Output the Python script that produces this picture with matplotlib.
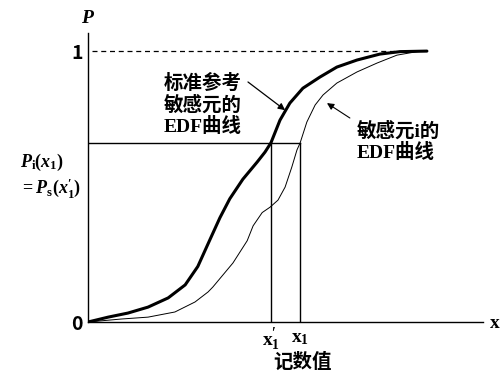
import matplotlib
matplotlib.use("Agg")
import matplotlib.pyplot as plt

plt.rcParams['font.family'] = ['Noto Sans CJK SC', 'DejaVu Sans']
plt.rcParams['mathtext.fontset'] = 'custom'
plt.rcParams['mathtext.rm'] = 'Liberation Serif:bold'
plt.rcParams['mathtext.it'] = 'Liberation Serif:style=italic:weight=bold'
plt.rcParams['mathtext.bf'] = 'Liberation Serif:bold'

# reference (standard) sensor EDF
ref_x = [0.0, 0.51, 1.01, 1.52, 2.03, 2.46, 2.78, 3.09, 3.34, 3.59, 3.92, 4.28,
         4.48, 4.63, 4.86, 5.11, 5.44, 5.87, 6.30, 6.81, 7.39, 7.90, 8.58]
ref_p = [0.0, 0.018, 0.033, 0.055, 0.089, 0.137, 0.205, 0.305, 0.385, 0.455,
         0.527, 0.590, 0.627, 0.661, 0.745, 0.808, 0.863, 0.904, 0.941, 0.967,
         0.989, 0.998, 1.0]

# sensor i EDF
sen_x = [0.0, 0.84, 1.52, 2.20, 2.71, 3.04, 3.16, 3.67, 4.03, 4.18, 4.41, 4.61,
         4.81, 4.99, 5.16, 5.29, 5.37, 5.54, 5.75, 5.95, 6.30, 6.81, 7.32, 7.82,
         8.33, 8.58]
sen_p = [0.0, 0.011, 0.018, 0.037, 0.074, 0.111, 0.129, 0.218, 0.300, 0.355,
         0.404, 0.424, 0.450, 0.498, 0.572, 0.635, 0.661, 0.738, 0.801, 0.838,
         0.882, 0.923, 0.956, 0.985, 0.998, 1.0]

x1p = 4.63   # x'_1
x1 = 5.37    # x_1
p_x1 = 0.661

cjk = ['Liberation Serif', 'Noto Sans CJK SC']

fig = plt.figure(figsize=(5, 3.8), dpi=100)
ax = fig.add_axes([0.176, 0.1526, 0.79, 0.76])
ax.set_xlim(0, 10)
ax.set_ylim(0, 1.066)

ax.plot(ref_x, ref_p, color='black', lw=2.2, solid_capstyle='round',
        solid_joinstyle='round')
ax.plot(sen_x, sen_p, color='black', lw=0.7)

ax.plot([0.1, 8.0], [1, 1], color='black', lw=0.9, ls=(0, (4, 3)))
ax.plot([0, x1], [p_x1, p_x1], color='black', lw=1.0)
ax.plot([x1p, x1p], [0, p_x1], color='black', lw=1.0)
ax.plot([x1, x1], [0, p_x1], color='black', lw=1.0)

for s in ['top', 'right']:
    ax.spines[s].set_visible(False)
for s in ['left', 'bottom']:
    ax.spines[s].set_linewidth(1.0)

ax.set_yticks([0, 1])
ax.set_yticklabels(['0', '1'], fontsize=14, fontweight='bold')
ax.tick_params(axis='y', length=0, pad=4)
ax.set_xticks([x1p, x1])
ax.set_xticklabels([r"$\mathbf{x}_1'$", r"$\mathbf{x}_1$"], fontsize=14)
ax.tick_params(axis='x', length=0, pad=3)

ax.text(0.0, 1.125, r"$P$", fontsize=14, ha='center', va='center')
ax.text(10.3, 0.0, r"$\mathbf{x}$", fontsize=14, ha='center', va='center')
ax.text(-0.18, 0.54, "$P_{\\rm i}(x_1)$\n$=P_{\\rm s}(x_1')$", fontsize=13,
        ha='right', va='center', multialignment='left', linespacing=1.2)
ax.text(5.42, -0.148, "记数值", fontsize=14, fontweight='bold',
        ha='center', va='center')

ax.text(2.91, 0.801, "标准参考\n敏感元的\nEDF曲线", family=cjk, fontsize=14,
        fontweight='bold', ha='center', va='center', linespacing=1.15)
ax.text(6.81, 0.664, "敏感元i的\nEDF曲线", family=cjk, fontsize=14,
        fontweight='bold', ha='left', va='center', linespacing=1.15)

ax.annotate("", xy=(4.99, 0.782), xytext=(4.05, 0.886),
            arrowprops=dict(arrowstyle='-|>', color='black', lw=0.9,
                            shrinkA=0, shrinkB=0, mutation_scale=10))
ax.annotate("", xy=(6.05, 0.808), xytext=(6.63, 0.753),
            arrowprops=dict(arrowstyle='-|>', color='black', lw=0.8,
                            shrinkA=0, shrinkB=0, mutation_scale=10))

fig.savefig("out.png", dpi=100)
